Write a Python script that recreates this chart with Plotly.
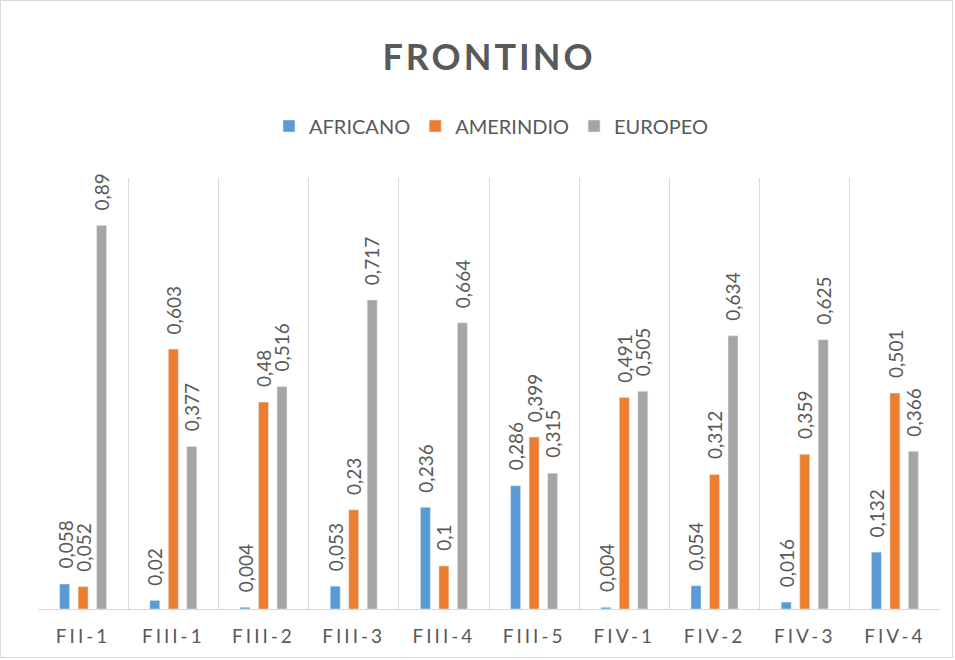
import plotly.graph_objects as go

categories = ["FII-1", "FIII-1", "FIII-2", "FIII-3", "FIII-4", "FIII-5", "FIV-1", "FIV-2", "FIV-3", "FIV-4"]
africano = [0.058, 0.02, 0.004, 0.053, 0.236, 0.286, 0.004, 0.054, 0.016, 0.132]
amerindio = [0.052, 0.603, 0.48, 0.23, 0.1, 0.399, 0.491, 0.312, 0.359, 0.501]
europeo = [0.89, 0.377, 0.516, 0.717, 0.664, 0.315, 0.505, 0.634, 0.625, 0.366]

series = [("AFRICANO", africano, "#5B9BD5"),
          ("AMERINDIO", amerindio, "#ED7D31"),
          ("EUROPEO", europeo, "#A5A5A5")]

FONT = "Lato"
GRAY = "#595959"

W, H = 955, 660
ml, mr, mt, mb = 38, 15, 178, 51
pw, ph = W - ml - mr, H - mt - mb
BARGAP, GROUPGAP = 0.385, 0.46
N = len(categories)
slot_px = (1 - BARGAP) / len(series) * pw / N

fig = go.Figure()
annotations = []
for i, (name, vals, color) in enumerate(series):
    fig.add_trace(go.Bar(name=name, x=categories, y=vals, marker_color=color))
    for c, v in zip(categories, vals):
        annotations.append(dict(
            x=c, y=v, xref="x", yref="y", text=str(v).replace(".", ","),
            showarrow=False, textangle=-90, xanchor="center", yanchor="bottom",
            xshift=(i - (len(series) - 1) / 2) * slot_px, yshift=13,
            font=dict(family=FONT, size=19, color=GRAY)))

fig.update_layout(
    width=W, height=H,
    margin=dict(l=ml, r=mr, t=mt, b=mb, autoexpand=False),
    paper_bgcolor="white", plot_bgcolor="white",
    barmode="group", bargap=BARGAP, bargroupgap=GROUPGAP,
    title=dict(text='<span style="letter-spacing:3px"><b>FRONTINO</b></span>',
               x=0.5, xref="paper", xanchor="center",
               y=1 - 57 / H, yref="container", yanchor="middle",
               font=dict(family=FONT, size=36, color=GRAY)),
    legend=dict(orientation="h", x=(491 - ml) / pw, xanchor="center", y=(H - mb - 126) / ph,
                yanchor="middle", font=dict(family=FONT, size=20, color=GRAY),
                itemwidth=30, traceorder="normal"),
    xaxis=dict(tickmode="array", tickvals=categories,
               ticktext=[f'<span style="letter-spacing:3px">{c}</span>' for c in categories],
               tickson="boundaries", ticks="", showgrid=True, gridcolor="#D9D9D9", gridwidth=1,
               showline=True, linecolor="#D9D9D9", linewidth=1, automargin=False,
               ticklabelstandoff=10,
               range=[-0.5, N - 0.5],
               tickfont=dict(family=FONT, size=19, color=GRAY)),
    yaxis=dict(range=[0, 1], visible=False, showgrid=False, zeroline=False, automargin=False),
    annotations=annotations,
    shapes=[dict(type="rect", xref="paper", yref="paper",
                 x0=(0.5 - ml) / pw, x1=(W - 2.5 - ml) / pw,
                 y0=(H - mb - (H - 2.5)) / ph, y1=(H - mb - 0.5) / ph,
                 line=dict(color="#D9D9D9", width=1), fillcolor="rgba(0,0,0,0)", layer="below")],
    hovermode=False,
)

fig.write_html("out.html", config={"displayModeBar": False},
               post_script="document.body.style.margin='0';document.body.style.padding='0';")
